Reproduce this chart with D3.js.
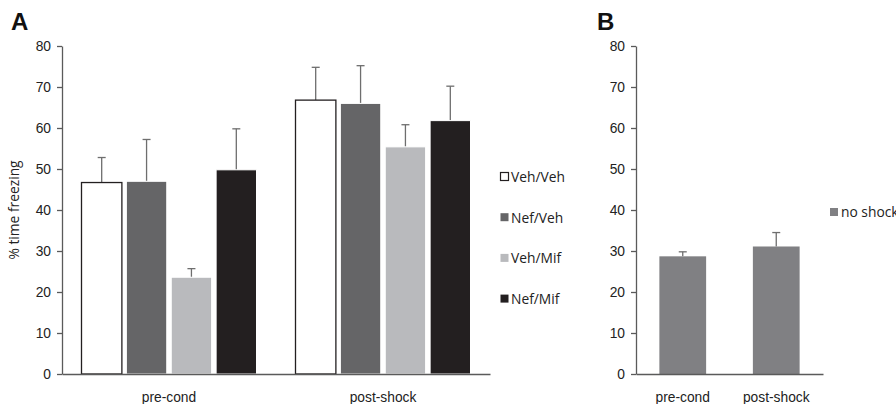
<!DOCTYPE html>
<html>
<head>
<meta charset="utf-8">
<script src="https://cdn.jsdelivr.net/npm/d3@7"></script>
<style>
  body { margin: 0; background: #fff; }
  svg { display: block; font-family: "Open Sans", sans-serif; }
</style>
</head>
<body>
<script>
// data
var phases = ["pre-cond", "post-shock"];
var groups = ["Veh/Veh", "Nef/Veh", "Veh/Mif", "Nef/Mif"];
var groupColors = ["#ffffff", "#656567", "#b9babd", "#231f20"];
var meansA = [[46.7, 47.0, 23.6, 49.8], [66.8, 66.0, 55.4, 61.8]];
var errorsA = [[6.1, 10.2, 2.1, 10.0], [8.0, 9.2, 5.4, 8.4]];
var meansB = [28.7, 31.1];
var errorsB = [1.1, 3.4];
var seriesB = "no shock";
var yTicks = [0, 10, 20, 30, 40, 50, 60, 70, 80];

var width = 896, height = 404;
var axisColor = "#5a5a5a", errColor = "#6e6e6e", textColor = "#222";
var fs = 13.8;

const svg = d3.select("body")
    .append("svg")
    .attr("width", width)
    .attr("height", height);

var yscale = d3.scaleLinear().domain([0, 80]).range([374, 46]);

function drawYAxis(x) {
    var g = svg.append("g")
        .attr("transform", `translate(${x},0)`)
        .call(d3.axisLeft(yscale).tickValues(yTicks).tickSize(5).tickSizeOuter(0));
    g.select(".domain").attr("stroke", axisColor).attr("stroke-width", 1.3);
    g.selectAll(".tick line").attr("stroke", axisColor).attr("stroke-width", 1.3);
    g.selectAll(".tick text").attr("fill", textColor).attr("font-size", fs).attr("x", -11);
}

function drawXAxis(scale, y) {
    var g = svg.append("g")
        .attr("transform", `translate(0,${y})`)
        .call(d3.axisBottom(scale).tickSize(0).tickSizeOuter(0));
    g.select(".domain").attr("stroke", axisColor).attr("stroke-width", 1.3);
    g.selectAll(".tick text").attr("fill", textColor).attr("font-size", fs).attr("dy", "1.8em");
}

function errorBar(x, top, val, capHalf) {
    svg.append("line")
        .attr("x1", x).attr("x2", x)
        .attr("y1", yscale(val)).attr("y2", yscale(top))
        .attr("stroke", errColor).attr("stroke-width", 1.3);
    svg.append("line")
        .attr("x1", x - capHalf).attr("x2", x + capHalf)
        .attr("y1", yscale(top)).attr("y2", yscale(top))
        .attr("stroke", errColor).attr("stroke-width", 1.3);
}

// ---- panel A
var xA = d3.scaleBand().domain(phases).range([62, 490]);
var xInner = d3.scaleBand().domain(groups).range([0, 175]).paddingInner(0.1);

phases.forEach(function(p, i) {
    var x0 = xA(p) + (xA.bandwidth() - 175) / 2;
    groups.forEach(function(gname, j) {
        var bx = x0 + xInner(gname);
        var bw = xInner.bandwidth();
        var v = meansA[i][j];
        errorBar(bx + bw / 2, v + errorsA[i][j], v, 4);
        svg.append("rect")
            .attr("x", bx)
            .attr("y", yscale(v))
            .attr("width", bw)
            .attr("height", yscale(0) - yscale(v))
            .attr("fill", groupColors[j])
            .attr("stroke", j == 0 ? "#231f20" : "#fff")
            .attr("stroke-width", j == 0 ? 1.3 : 1);
    });
});

drawYAxis(62);
drawXAxis(xA, 374);

// legend A
groups.forEach(function(gname, j) {
    var ly = 177 + j * 40.7;
    svg.append("rect")
        .attr("x", 500.5).attr("y", ly - 4.5)
        .attr("width", 8).attr("height", 8)
        .attr("fill", groupColors[j])
        .attr("stroke", j == 0 ? "#231f20" : "none")
        .attr("stroke-width", 1.2);
    svg.append("text")
        .attr("x", 511).attr("y", ly)
        .attr("dy", "0.35em")
        .attr("font-size", fs)
        .attr("fill", textColor)
        .text(gname);
});

svg.append("text")
    .attr("transform", "translate(19,210) rotate(-90)")
    .attr("text-anchor", "middle")
    .attr("font-size", fs)
    .attr("fill", textColor)
    .text("% time freezing");

// ---- panel B
var xB = d3.scaleBand().domain(phases).range([636, 823]).paddingInner(0.5).paddingOuter(0.25);

phases.forEach(function(p, i) {
    var bx = xB(p), bw = xB.bandwidth();
    errorBar(bx + bw / 2, meansB[i] + errorsB[i], meansB[i], 4);
    svg.append("rect")
        .attr("x", bx)
        .attr("y", yscale(meansB[i]))
        .attr("width", bw)
        .attr("height", yscale(0) - yscale(meansB[i]))
        .attr("fill", "#808083");
});

drawYAxis(636);
drawXAxis(xB, 374);

svg.append("rect")
    .attr("x", 830).attr("y", 208)
    .attr("width", 8).attr("height", 8)
    .attr("fill", "#808083");
svg.append("text")
    .attr("x", 841).attr("y", 212)
    .attr("dy", "0.35em")
    .attr("font-size", fs)
    .attr("fill", textColor)
    .text(seriesB);

// panel letters
svg.append("text").attr("x", 11).attr("y", 30)
    .attr("font-family", "Liberation Sans, Arial, sans-serif")
    .attr("font-weight", "bold").attr("font-size", 24).attr("fill", "#111")
    .text("A");
svg.append("text").attr("x", 597).attr("y", 30)
    .attr("font-family", "Liberation Sans, Arial, sans-serif")
    .attr("font-weight", "bold").attr("font-size", 24).attr("fill", "#111")
    .text("B");
</script>
</body>
</html>
